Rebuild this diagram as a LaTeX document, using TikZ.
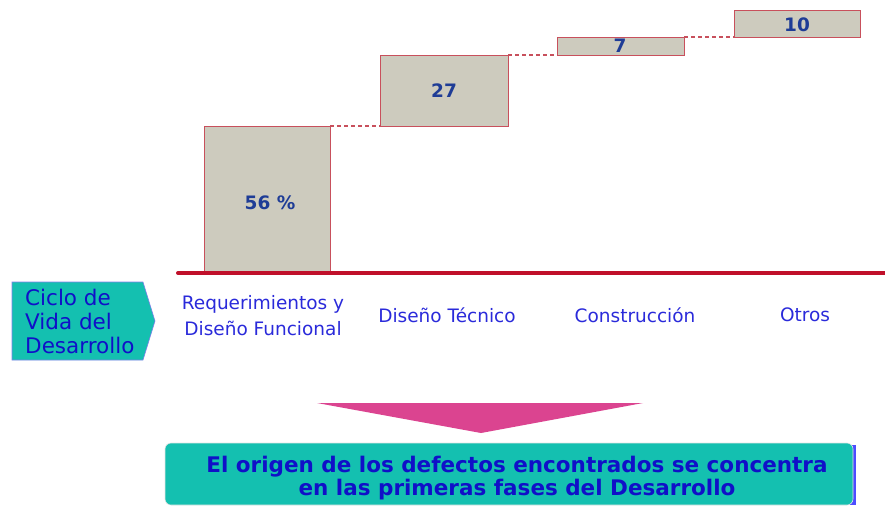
\documentclass[tikz,border=0pt]{standalone}
\usepackage{fontspec}
\setmainfont{DejaVu Sans}
\usetikzlibrary{shapes.geometric}
\definecolor{boxfill}{HTML}{CDCBBE}
\definecolor{boxline}{HTML}{C8505C}
\definecolor{redline}{HTML}{C0102A}
\definecolor{teal}{HTML}{14C0B0}
\definecolor{lblue}{HTML}{2A2ADA}
\definecolor{dblue}{HTML}{1E3C96}
\definecolor{tblue}{HTML}{1010C8}
\definecolor{magenta}{HTML}{DB4490}
\begin{document}
\begin{tikzpicture}[x=1pt,y=-1pt,
  bar/.style={draw=boxline,fill=boxfill,line width=0.9pt},
  num/.style={font=\bfseries\fontsize{18.5}{22}\selectfont,text=dblue},
  lbl/.style={font=\fontsize{18.5}{26}\selectfont,text=lblue,align=center},
  conn/.style={draw=boxline,line width=1.3pt,dash pattern=on 4pt off 3pt}]
\useasboundingbox (0,0) rectangle (885,507);
% bars
\draw[bar] (204,126) rectangle (330,273);
\draw[bar] (380,55) rectangle (508,126);
\draw[bar] (557,37) rectangle (684,55);
\draw[bar] (734,10) rectangle (860,37);
\node[num] (b1) at (270,203) {56 \%};
\node[num] (b2) at (444,91) {27};
\node[num] (b3) at (620,46) {7};
\node[num] (b4) at (797,25) {10};
\coordinate (c1a) at (330,126); \coordinate (c1b) at (380,126);
\coordinate (c2a) at (508,55); \coordinate (c2b) at (557,55);
\coordinate (c3a) at (684,37); \coordinate (c3b) at (734,37);
\draw[conn] (c1a) -- (c1b);
\draw[conn] (c2a) -- (c2b);
\draw[conn] (c3a) -- (c3b);
% baseline
\coordinate (l1) at (178,273); \coordinate (l2) at (885,273);
\draw[redline,line width=4pt,line cap=round] (l1) -- (l2);
% labels
\node[lbl] (p1) at (263,316) {Requerimientos y\\Diseño Funcional};
\node[lbl] (p2) at (447,315) {Diseño Técnico};
\node[lbl] (p3) at (635,315) {Construcción};
\node[lbl] (p4) at (805,315) {Otros};
% pentagon
\draw[fill=teal,draw=lblue!60,line width=0.6pt] (12,282) -- (143,282) -- (155,321) -- (143,360) -- (12,360) -- cycle;
\node[font=\fontsize{21.5}{24}\selectfont,text=tblue,align=left,anchor=west,inner sep=0pt] (cv) at (25,321) {Ciclo de\\Vida del\\Desarrollo};
% magenta triangle
\fill[magenta] (317,403) -- (643,403) -- (481,433) -- cycle;
% bottom box
\fill[blue!70] (169,445) rectangle (856,505);
\draw[fill=teal,draw=white!80!gray,rounded corners=6pt,line width=0.6pt] (165,443) rectangle (853,505);
\node[font=\bfseries\fontsize{21.5}{23}\selectfont,text=tblue,align=center] (msg) at (517,478) {El origen de los defectos encontrados se concentra\\en las primeras fases del Desarrollo};
\end{tikzpicture}
\end{document}
